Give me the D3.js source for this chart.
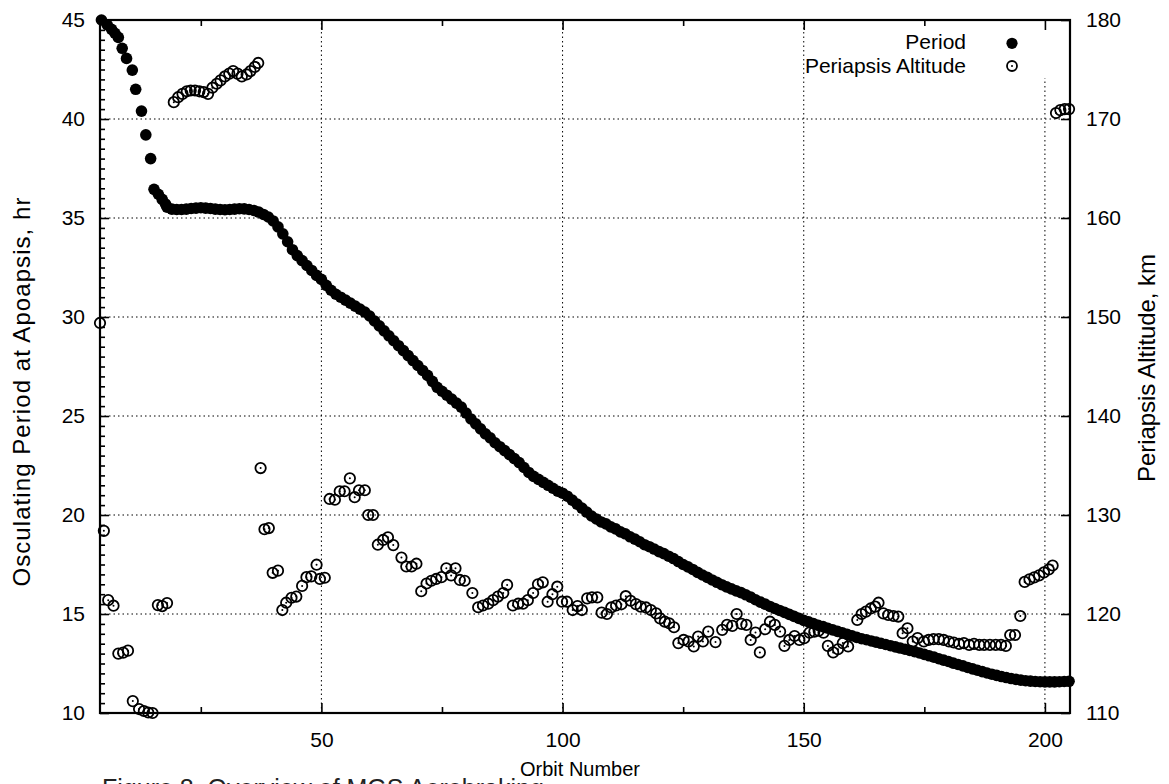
<!DOCTYPE html>
<html>
<head>
<meta charset="utf-8">
<script src="https://cdn.jsdelivr.net/npm/d3@7"></script>
<style>
  html, body { margin: 0; padding: 0; background: #fff; }
  svg { display: block; }
  text { font-family: "Liberation Sans", Arial, Helvetica, sans-serif; fill: #000; }
</style>
</head>
<body>
<svg id="chart" width="1169" height="784"></svg>
<script>
// ---------------- DATA ----------------
// Osculating period at apoapsis (hr), early orbits read individually
const periodEarlyOrbits = [4.4, 5.6, 6.5, 7.2, 7.9, 8.7, 9.6, 10.8, 11.5, 12.7, 13.6, 14.6, 15.3, 16.2, 17.0, 17.7];
const periodEarlyHr     = [45.0, 44.75, 44.53, 44.33, 44.12, 43.57, 43.06, 42.47, 41.5, 40.4, 39.2, 38.0, 36.45, 36.2, 35.94, 35.7];
// one value per orbit from orbit 18 to 205
const periodStartOrbit = 18;
const periodHr = [
  35.55, 35.45, 35.43, 35.43, 35.45, 35.48, 35.5, 35.52, 35.5, 35.48,      // 18-27
  35.45, 35.43, 35.42, 35.43, 35.45, 35.47, 35.46, 35.43, 35.38, 35.3,     // 28-37
  35.18, 35.05, 34.85, 34.55, 34.2, 33.8, 33.4, 33.1, 32.85, 32.6,         // 38-47
  32.35, 32.1, 31.9, 31.6, 31.35, 31.15, 31.0, 30.85, 30.7, 30.55,         // 48-57
  30.4, 30.25, 30.05, 29.8, 29.55, 29.3, 29.05, 28.8, 28.55, 28.3,         // 58-67
  28.05, 27.8, 27.55, 27.3, 27.05, 26.75, 26.45, 26.25, 26.05, 25.85,      // 68-77
  25.65, 25.45, 25.15, 24.85, 24.6, 24.35, 24.1, 23.9, 23.65, 23.45,       // 78-87
  23.25, 23.05, 22.85, 22.65, 22.4, 22.15, 21.95, 21.8, 21.65, 21.5,       // 88-97
  21.35, 21.2, 21.1, 20.95, 20.75, 20.55, 20.35, 20.15, 19.95, 19.8,       // 98-107
  19.65, 19.55, 19.4, 19.3, 19.15, 19.05, 18.9, 18.78, 18.65, 18.5,        // 108-117
  18.4, 18.28, 18.15, 18.05, 17.92, 17.8, 17.65, 17.5, 17.38, 17.25,       // 118-127
  17.1, 16.97, 16.85, 16.72, 16.6, 16.48, 16.37, 16.27, 16.17, 16.08,      // 128-137
  15.97, 15.85, 15.72, 15.6, 15.5, 15.38, 15.28, 15.18, 15.08, 14.98,      // 138-147
  14.88, 14.78, 14.68, 14.6, 14.52, 14.43, 14.36, 14.28, 14.2, 14.12,      // 148-157
  14.05, 13.97, 13.9, 13.82, 13.75, 13.7, 13.64, 13.58, 13.52, 13.46,      // 158-167
  13.4, 13.34, 13.28, 13.22, 13.16, 13.1, 13.03, 12.96, 12.89, 12.82,      // 168-177
  12.74, 12.67, 12.6, 12.52, 12.45, 12.38, 12.3, 12.23, 12.16, 12.09,      // 178-187
  12.02, 11.96, 11.9, 11.84, 11.79, 11.74, 11.7, 11.66, 11.63, 11.61,      // 188-197
  11.59, 11.58, 11.57, 11.57, 11.57, 11.58, 11.59, 11.6                    // 198-205
];

// Periapsis altitude (km)
const altOrbits = [
  4.1, 4.9, 5.8, 6.9, 7.9, 8.9, 9.9, 10.9, 12.2, 13.2, 14.1, 15.0, 16.1, 17.0, 18.0,
  19.4, 20.3, 21.2, 22.1, 22.9, 23.8, 24.7, 25.6, 26.5, 27.4, 28.3, 29.1, 30.0, 30.9, 31.7, 32.6, 33.5, 34.5, 35.3, 36.2, 36.9,
  37.4, 38.2, 39.1, 39.9, 41.0, 41.9, 42.7, 43.8, 44.8, 46.0, 46.9, 47.9, 49.0, 49.7, 50.7,
  51.7, 52.8, 53.8, 54.8, 55.9, 56.9, 57.8, 59.0, 59.7, 60.7, 61.7, 62.8, 63.8, 64.9,
  66.6, 67.6, 68.7, 69.7, 70.7, 71.8, 72.8, 73.8, 74.9, 75.9, 76.9, 77.8, 78.7, 79.7,
  81.3, 82.5, 83.5, 84.6, 85.6, 86.6, 87.7, 88.5, 89.7, 90.8, 91.8, 92.8, 93.9, 94.9, 95.9,
  96.9, 97.9, 98.9, 99.9, 100.9, 102.1, 103.1, 104.0, 105.1, 106.1, 107.2, 108.1, 109.2,
  110.1, 111.1, 112.2, 113.1, 114.1, 115.2, 116.2, 117.3, 118.3, 119.4, 120.2, 121.2, 122.1, 123.1,
  124.0, 125.1, 126.1, 127.2, 128.1, 129.1, 130.2, 131.7, 133.1, 134.1, 135.2, 136.1, 137.1, 138.1,
  139.0, 140.0, 140.9, 142.0, 143.0, 144.0, 145.1, 146.0, 147.0, 148.1, 149.1, 150.1, 151.2, 152.2,
  153.1, 154.1, 155.0, 156.1, 157.1, 158.1, 159.2, 161.1, 162.0, 162.9, 163.9, 164.8, 165.5, 166.5,
  167.5, 168.6, 169.6, 170.5, 171.5, 172.6, 173.6, 174.9, 175.9, 176.9, 178.0, 179.0, 180.1, 181.1,
  182.2, 183.2, 184.3, 185.3, 186.4, 187.4, 188.6, 189.8, 190.9, 191.9, 192.8, 193.8, 194.9,
  195.8, 196.8, 197.8, 198.8, 199.8, 200.8, 201.6, 202.3, 203.2, 204.1, 205.0
];
const altKm = [
  149.4, 128.4, 121.4, 120.84, 116.0, 116.1, 116.3, 111.2, 110.4, 110.2, 110.05, 110.0, 120.9, 120.8, 121.1,
  171.7, 172.2, 172.54, 172.8, 172.88, 172.88, 172.8, 172.72, 172.54, 173.16, 173.56, 173.9, 174.3, 174.58, 174.84, 174.58, 174.3, 174.5, 174.84, 175.26, 175.66,
  134.74, 128.56, 128.68, 124.16, 124.38, 120.4, 121.14, 121.64, 121.76, 122.84, 123.72, 123.8, 124.98, 123.54, 123.66,
  131.62, 131.54, 132.4, 132.4, 133.7, 131.8, 132.5, 132.5, 130.0, 130.0, 127.0, 127.48, 127.74, 126.96,
  125.7, 124.8, 124.8, 125.08, 122.3, 123.08, 123.36, 123.54, 123.72, 124.62, 123.9, 124.62, 123.44, 123.36,
  122.12, 120.68, 120.86, 121.04, 121.4, 121.76, 122.12, 122.94, 120.86, 121.04, 121.04, 121.4, 122.12, 123.0, 123.2,
  121.24, 122.0, 122.76, 121.24, 121.24, 120.4, 120.8, 120.4, 121.58, 121.68, 121.68, 120.14, 120.0,
  120.66, 120.86, 120.98, 121.8, 121.34, 121.0, 120.74, 120.66, 120.4, 120.06, 119.56, 119.22, 119.06, 118.66,
  117.06, 117.38, 117.22, 116.72, 117.72, 117.22, 118.22, 117.16, 118.4, 118.9, 118.8, 120.0, 119.0, 118.9,
  117.38, 118.12, 116.12, 118.46, 119.22, 118.9, 118.22, 116.78, 117.38, 117.78, 117.38, 117.56, 118.12, 118.22,
  118.32, 118.12, 116.78, 116.12, 116.44, 117.06, 116.72, 119.4, 120.0, 120.24, 120.56, 120.74, 121.14, 120.06,
  119.9, 119.8, 119.74, 118.06, 118.56, 117.22, 117.56, 117.22, 117.38, 117.46, 117.46, 117.38, 117.22, 117.12,
  116.98, 117.06, 116.88, 116.98, 116.88, 116.88, 116.88, 116.88, 116.88, 116.78, 117.88, 117.88, 119.8,
  123.24, 123.5, 123.7, 123.9, 124.2, 124.5, 124.9, 170.6, 170.9, 171.0, 171.0
];

// Axis tick values and labels
const xMajorTicks = [50, 100, 150, 200];
const xMinorTicks = [25, 75, 125, 175];
const yLeftMajorTicks = [10, 15, 20, 25, 30, 35, 40, 45];
const yRightMajorTicks = [110, 120, 130, 140, 150, 160, 170, 180];
const seriesNames = ["Period", "Periapsis Altitude"];
const xTitle = "Orbit Number";
const yLeftTitle = "Osculating Period at Apoapsis,  hr";
const yRightTitle = "Periapsis Altitude,  km";
const captionText = "Figure 8.  Overview of MGS Aerobraking";

// ---------------- LAYOUT ----------------
const svg = d3.select("#chart");
const L = 100, R = 1070, T = 20, B = 713;
const x = d3.scaleLinear().domain([4.1, 205.2]).range([L, R]);
const yL = d3.scaleLinear().domain([10, 45]).range([B, T]);
const yR = d3.scaleLinear().domain([110, 180]).range([B, T]);

const periodData = periodEarlyOrbits.map((o, i) => ({ o, v: periodEarlyHr[i] }))
  .concat(periodHr.map((v, i) => ({ o: periodStartOrbit + i, v })));
const altData = altOrbits.map((o, i) => ({ o, v: altKm[i] }));

// grid
const grid = svg.append("g").attr("stroke", "#000").attr("stroke-width", 1)
  .attr("stroke-dasharray", "1.5,3");
grid.selectAll(".gx").data(xMajorTicks).join("line")
  .attr("x1", d => x(d)).attr("x2", d => x(d)).attr("y1", B).attr("y2", T);
grid.selectAll(".gy").data(yLeftMajorTicks.filter(v => v > 10 && v < 45)).join("line")
  .attr("x1", L).attr("x2", R).attr("y1", d => yL(d)).attr("y2", d => yL(d));

// legend background (hides grid)
svg.append("rect").attr("x", 880).attr("y", T + 2).attr("width", 186).attr("height", 56).attr("fill", "#fff");

// axes ticks
function styleAxis(g, fs) {
  g.select(".domain").remove();
  g.selectAll(".tick line").attr("stroke", "#000").attr("stroke-width", 1.6);
  g.selectAll(".tick text").style("font-size", fs + "px")
    .style("font-family", '"Liberation Sans", Arial, sans-serif');
}
const fsTick = 21;
svg.append("g").attr("transform", `translate(0,${B})`)
  .call(d3.axisBottom(x).tickValues(xMajorTicks).tickSize(-10).tickPadding(19).tickFormat(d3.format("d")))
  .call(g => styleAxis(g, fsTick));
svg.append("g").attr("transform", `translate(0,${B})`)
  .call(d3.axisBottom(x).tickValues(xMinorTicks).tickSize(-6).tickFormat(""))
  .call(g => styleAxis(g, fsTick));
svg.append("g").attr("transform", `translate(0,${T})`)
  .call(d3.axisTop(x).tickValues(xMajorTicks).tickSize(-10).tickFormat(""))
  .call(g => styleAxis(g, fsTick));
svg.append("g").attr("transform", `translate(0,${T})`)
  .call(d3.axisTop(x).tickValues(xMinorTicks).tickSize(-6).tickFormat(""))
  .call(g => styleAxis(g, fsTick));
svg.append("g").attr("transform", `translate(${L},0)`)
  .call(d3.axisLeft(yL).tickValues(yLeftMajorTicks).tickSize(-9).tickPadding(15).tickFormat(d3.format("d")))
  .call(g => styleAxis(g, fsTick));
svg.append("g").attr("transform", `translate(${L},0)`)
  .call(d3.axisLeft(yL).tickValues(d3.range(10, 45.001, 0.5).filter(v => v % 5 !== 0)).tickSize(-5).tickFormat(""))
  .call(g => styleAxis(g, fsTick));
svg.append("g").attr("transform", `translate(${R},0)`)
  .call(d3.axisRight(yR).tickValues(yRightMajorTicks).tickSize(-9).tickPadding(16).tickFormat(d3.format("d")))
  .call(g => styleAxis(g, fsTick));

// frame
svg.append("rect").attr("x", L).attr("y", T).attr("width", R - L).attr("height", B - T)
  .attr("fill", "none").attr("stroke", "#000").attr("stroke-width", 2.2);

// period markers
svg.append("g").selectAll("circle").data(periodData).join("circle")
  .attr("cx", d => x(d.o)).attr("cy", d => yL(d.v)).attr("r", 5.8).attr("fill", "#000");

// altitude markers
const alt = svg.append("g");
alt.selectAll("circle.o").data(altData).join("circle").attr("class", "o")
  .attr("cx", d => x(d.o)).attr("cy", d => yR(d.v)).attr("r", 5.2)
  .attr("fill", "none").attr("stroke", "#000").attr("stroke-width", 1.8);
alt.selectAll("circle.c").data(altData).join("circle").attr("class", "c")
  .attr("cx", d => x(d.o)).attr("cy", d => yR(d.v)).attr("r", 1).attr("fill", "#000");

// legend
const fsLeg = 21;
svg.append("text").attr("x", 966).attr("y", 49).attr("text-anchor", "end")
  .style("font-size", fsLeg + "px").text(seriesNames[0]);
svg.append("text").attr("x", 966).attr("y", 73).attr("text-anchor", "end")
  .style("font-size", fsLeg + "px").text(seriesNames[1]);
svg.append("circle").attr("cx", 1012).attr("cy", 43.3).attr("r", 5.6).attr("fill", "#000");
svg.append("circle").attr("cx", 1012).attr("cy", 66).attr("r", 5.0)
  .attr("fill", "none").attr("stroke", "#000").attr("stroke-width", 1.8);
svg.append("circle").attr("cx", 1012).attr("cy", 66).attr("r", 1).attr("fill", "#000");

// axis titles
svg.append("text").attr("x", 580).attr("y", 776).attr("text-anchor", "middle")
  .style("font-size", "20px").text(xTitle);
svg.append("text").attr("transform", "translate(29.5,392) rotate(-90)").attr("text-anchor", "middle")
  .attr("textLength", 389).attr("lengthAdjust", "spacing")
  .style("font-size", "24px").text(yLeftTitle);
svg.append("text").attr("transform", "translate(1155,368) rotate(-90)").attr("text-anchor", "middle")
  .attr("textLength", 228).attr("lengthAdjust", "spacing")
  .style("font-size", "24px").text(yRightTitle);

// caption (cut off at bottom edge, as in the reference)
svg.append("text").attr("x", 102).attr("y", 797).style("font-size", "25px").style("fill", "#222")
  .text(captionText);
</script>
</body>
</html>
